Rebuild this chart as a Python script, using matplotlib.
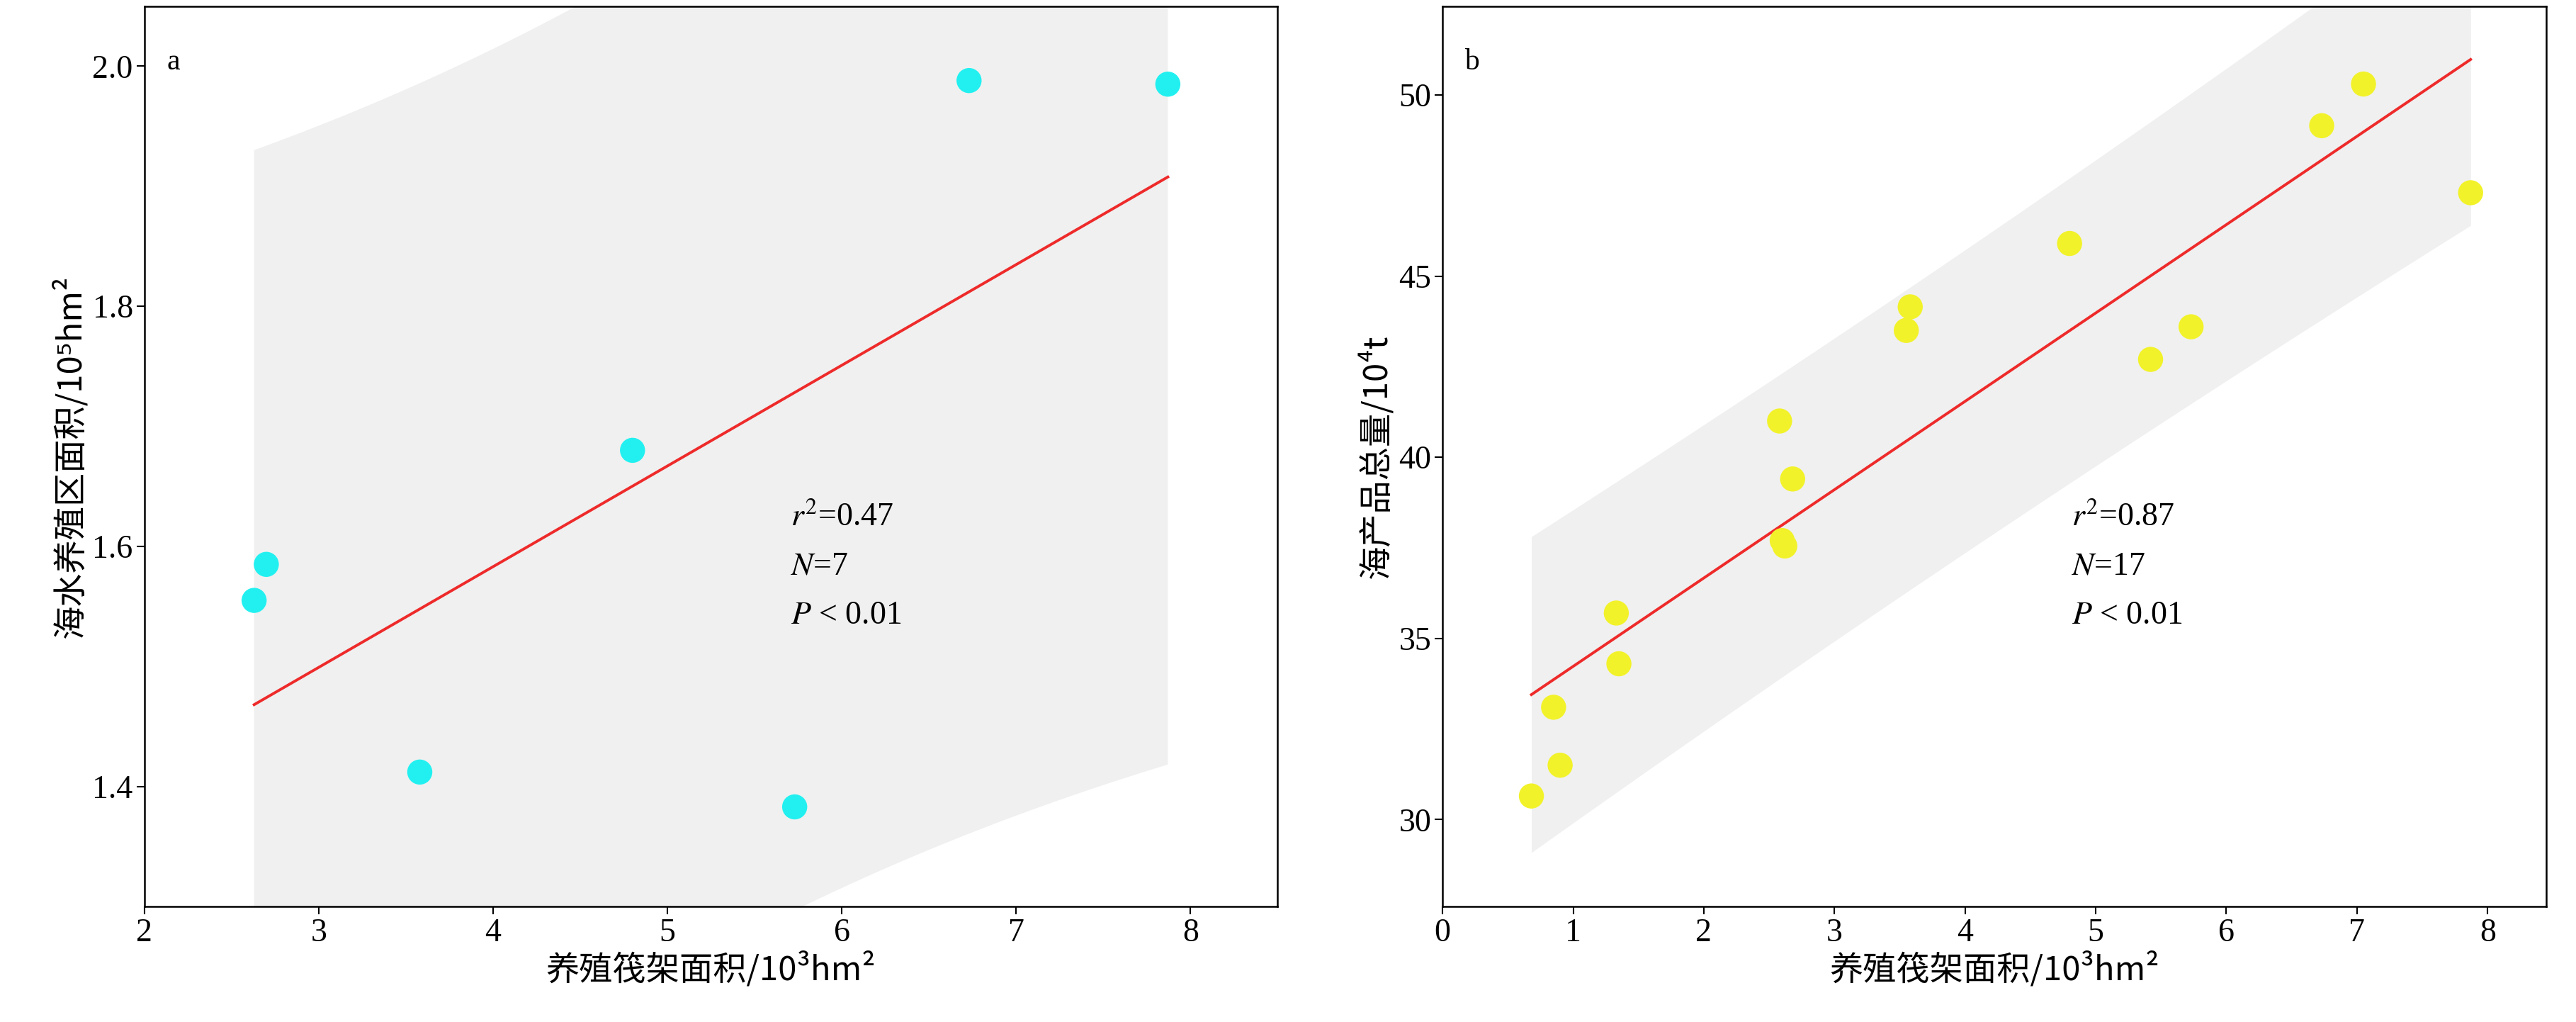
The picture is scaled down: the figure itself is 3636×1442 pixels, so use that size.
import numpy as np
import matplotlib.pyplot as plt

plt.rcParams['font.family'] = ['Liberation Serif', 'Noto Sans CJK SC']
plt.rcParams['mathtext.fontset'] = 'stix'

# panel a
area_a = [2.63, 2.70, 3.58, 4.80, 5.73, 6.73, 7.87]
sea_area = [1.555, 1.585, 1.412, 1.680, 1.383, 1.988, 1.985]

# panel b
area_b = [0.68, 0.85, 0.90, 1.33, 1.35, 2.58, 2.60, 2.62, 2.68, 3.55, 3.58,
          4.80, 5.42, 5.73, 6.73, 7.05, 7.87]
sea_prod = [30.65, 33.1, 31.5, 35.7, 34.3, 41.0, 37.7, 37.55, 39.4, 43.5, 44.15,
            45.9, 42.7, 43.6, 49.15, 50.3, 47.3]

T90 = {7: 2.015, 17: 1.753}  # t(0.95, n-2), 90% prediction band

CJK = ['Noto Sans CJK SC', 'DejaVu Sans']


def panel(ax, x, y, color, xlim, ylim, xticks, yticks, letter, stats, ylabel):
    x = np.array(x); y = np.array(y); n = len(x)
    b, a = np.polyfit(x, y, 1)
    xs = np.linspace(x.min(), x.max(), 200)
    fit = a + b * xs
    s = np.sqrt(np.sum((y - (a + b * x)) ** 2) / (n - 2))
    sxx = np.sum((x - x.mean()) ** 2)
    hw = T90[n] * s * np.sqrt(1 + 1 / n + (xs - x.mean()) ** 2 / sxx)
    ax.fill_between(xs, fit - hw, fit + hw, color='#f0f0f0', lw=0, zorder=1)
    ax.plot(xs, fit, color='#ee2a2a', lw=2.8, zorder=2)
    ax.scatter(x, y, s=650, color=color, edgecolors='none', zorder=3)
    ax.set_xlim(*xlim); ax.set_ylim(*ylim)
    ax.set_xticks(xticks); ax.set_yticks(yticks)
    ax.tick_params(labelsize=33, length=8, width=1.5, direction='out')
    for sp in ax.spines.values():
        sp.set_linewidth(1.8)
    ax.text(0.02, 0.93, letter, transform=ax.transAxes, fontsize=30)
    ax.text(0.57, 0.423, f'$r^2$={stats}', transform=ax.transAxes, fontsize=33)
    ax.text(0.57, 0.369, f'$N$={n}', transform=ax.transAxes, fontsize=33)
    ax.text(0.57, 0.314, '$P$ < 0.01', transform=ax.transAxes, fontsize=33)
    ax.set_xlabel('养殖筏架面积/10³hm²', fontsize=34, family=CJK)
    ax.set_ylabel(ylabel, fontsize=34, family=CJK)


fig = plt.figure(figsize=(36.36, 14.42), dpi=100)
ax1 = fig.add_axes([0.056, 0.113, 0.440, 0.881])
ax2 = fig.add_axes([0.560, 0.113, 0.4285, 0.881])

panel(ax1, area_a, sea_area, '#22f0f0', (2, 8.5), (1.3, 2.05),
      [2, 3, 4, 5, 6, 7, 8], [1.4, 1.6, 1.8, 2.0], 'a', '0.47',
      '海水养殖区面积/10⁵hm²')
ax1.set_yticklabels(['1.4', '1.6', '1.8', '2.0'])
panel(ax2, area_b, sea_prod, '#f2f22a', (0, 8.45), (27.6, 52.45),
      [0, 1, 2, 3, 4, 5, 6, 7, 8], [30, 35, 40, 45, 50], 'b', '0.87',
      '海产品总量/10⁴t')

fig.savefig('out.png', dpi=100)
